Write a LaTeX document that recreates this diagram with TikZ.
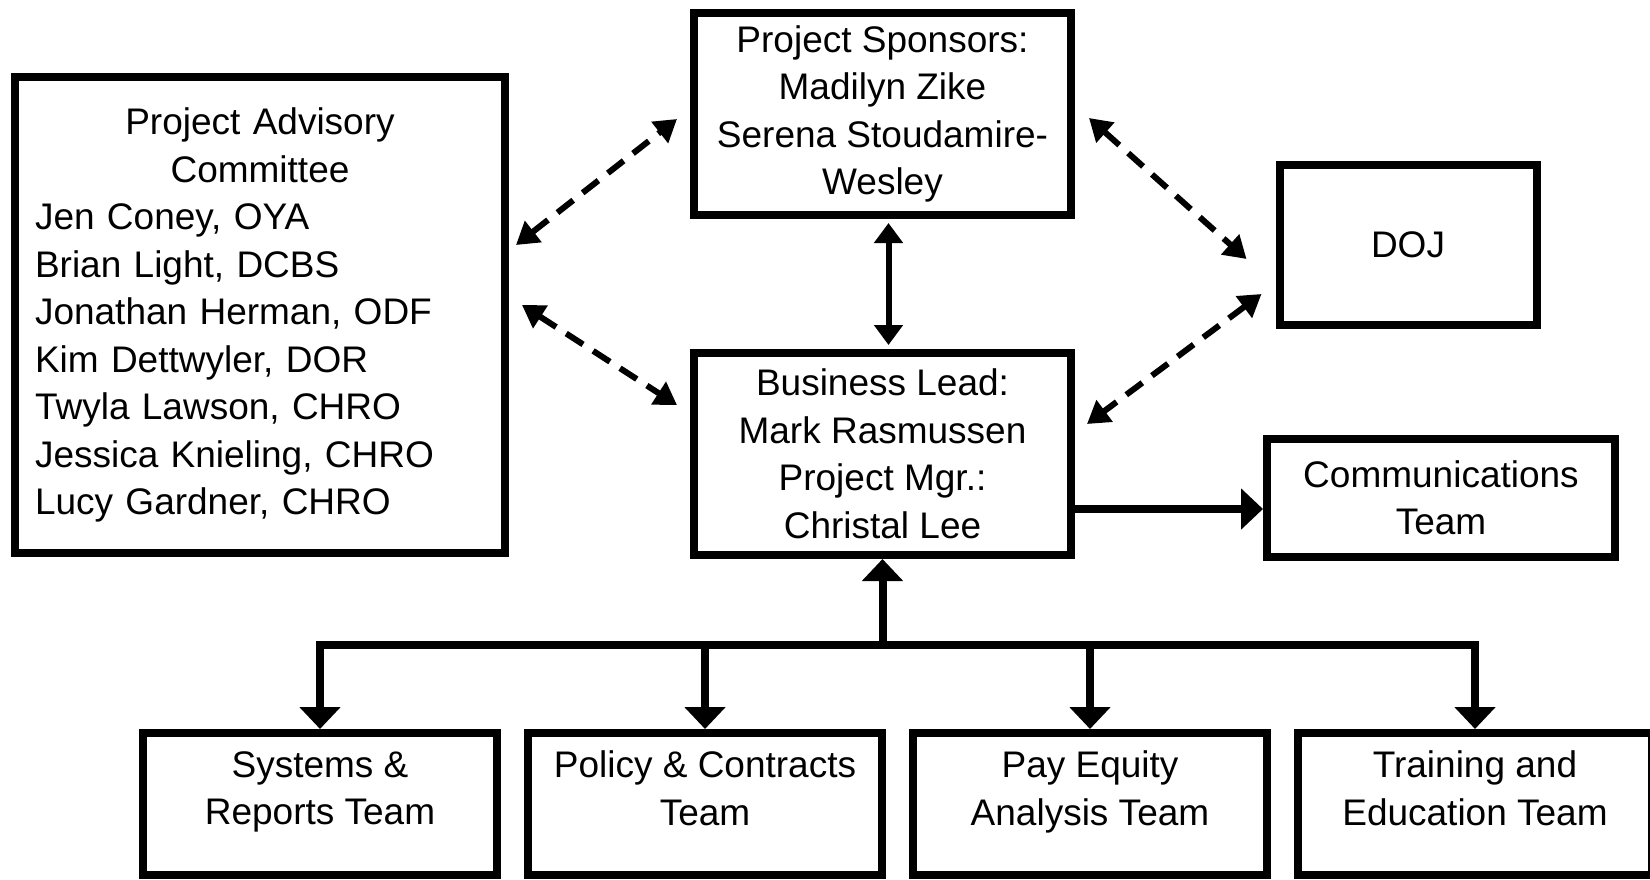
\documentclass[tikz,border=0pt]{standalone}
\usepackage{fontspec}
\setmainfont{Liberation Sans}
\usetikzlibrary{arrows.meta,positioning}

\begin{document}
\begin{tikzpicture}[x=1pt, y=-1pt, node distance=23pt,
  block/.style={rectangle, draw, line width=8pt, align=center, inner sep=0pt, font=\fontsize{37}{47.5}\selectfont},
  team/.style={block, minimum width=354pt, minimum height=142pt, text depth=32pt},
  dasharr/.style={{Triangle[length=22pt,width=26pt]}-{Triangle[length=22pt,width=26pt]}, line width=6pt, dash pattern=on 20pt off 12pt},
  bothsolid/.style={{Triangle[length=20pt,width=28pt]}-{Triangle[length=20pt,width=28pt]}, line width=6pt},
  solidarr/.style={-{Triangle[length=22pt,width=40pt]}, line width=8pt}]
\useasboundingbox (0,0) rectangle (1650,879);
\node[block, minimum width=490pt, minimum height=476pt, text width=450pt, align=left] (adv) at (260,315) {{\centering Project Advisory\\Committee\par}Jen Coney, OYA\\Brian Light, DCBS\\Jonathan Herman, ODF\\Kim Dettwyler, DOR\\Twyla Lawson, CHRO\\Jessica Knieling, CHRO\\Lucy Gardner, CHRO};
\node[block, minimum width=377pt, minimum height=202pt] (spons) at (882.5,114) {Project Sponsors:\\Madilyn Zike\\Serena Stoudamire-\\Wesley};
\node[block, minimum width=377pt, minimum height=202pt] (lead) at (882.5,454) {Business Lead:\\Mark Rasmussen\\Project Mgr.:\\Christal Lee};
\node[block, minimum width=257pt, minimum height=160pt] (doj) at (1408,245) {DOJ};
\node[block, minimum width=348pt, minimum height=118pt] (comms) at (1441,498) {Communications\\Team};
\node[team] (sys) at (320,804) {Systems \&\\Reports Team};
\node[team, right=of sys] (pol) {Policy \& Contracts\\Team};
\node[team, right=of pol] (pay) {Pay Equity\\Analysis Team};
\node[team, right=of pay] (train) {Training and\\Education Team};
\coordinate (bus) at ([yshift=84pt]sys.north);
\draw[dasharr] ([xshift=7pt,yshift=70pt]adv.east) -- ([xshift=-13pt,yshift=-5pt]spons.west);
\draw[dasharr] ([xshift=13pt,yshift=10pt]adv.east) -- ([xshift=-13pt,yshift=49pt]lead.west);
\draw[dasharr] ([xshift=14pt,yshift=-4pt]spons.east) -- ([xshift=-29pt,yshift=-14pt]doj.west);
\draw[dasharr] ([xshift=-14pt,yshift=-49pt]doj.west) -- ([xshift=12pt,yshift=30pt]lead.east);
\draw[bothsolid, shorten <=4pt, shorten >=4pt] ([xshift=6pt]spons.south) -- ([xshift=6pt]lead.north);
\draw[solidarr] ([yshift=-55pt]lead.east) -- ([yshift=-55pt]lead.east -| comms.west);
\draw[solidarr] (bus -| lead.south) -- (lead.south);
\foreach \t in {sys,pol,pay,train}
  \draw[solidarr] (bus -| lead.south) -| (\t.north);
\end{tikzpicture}
\end{document}
